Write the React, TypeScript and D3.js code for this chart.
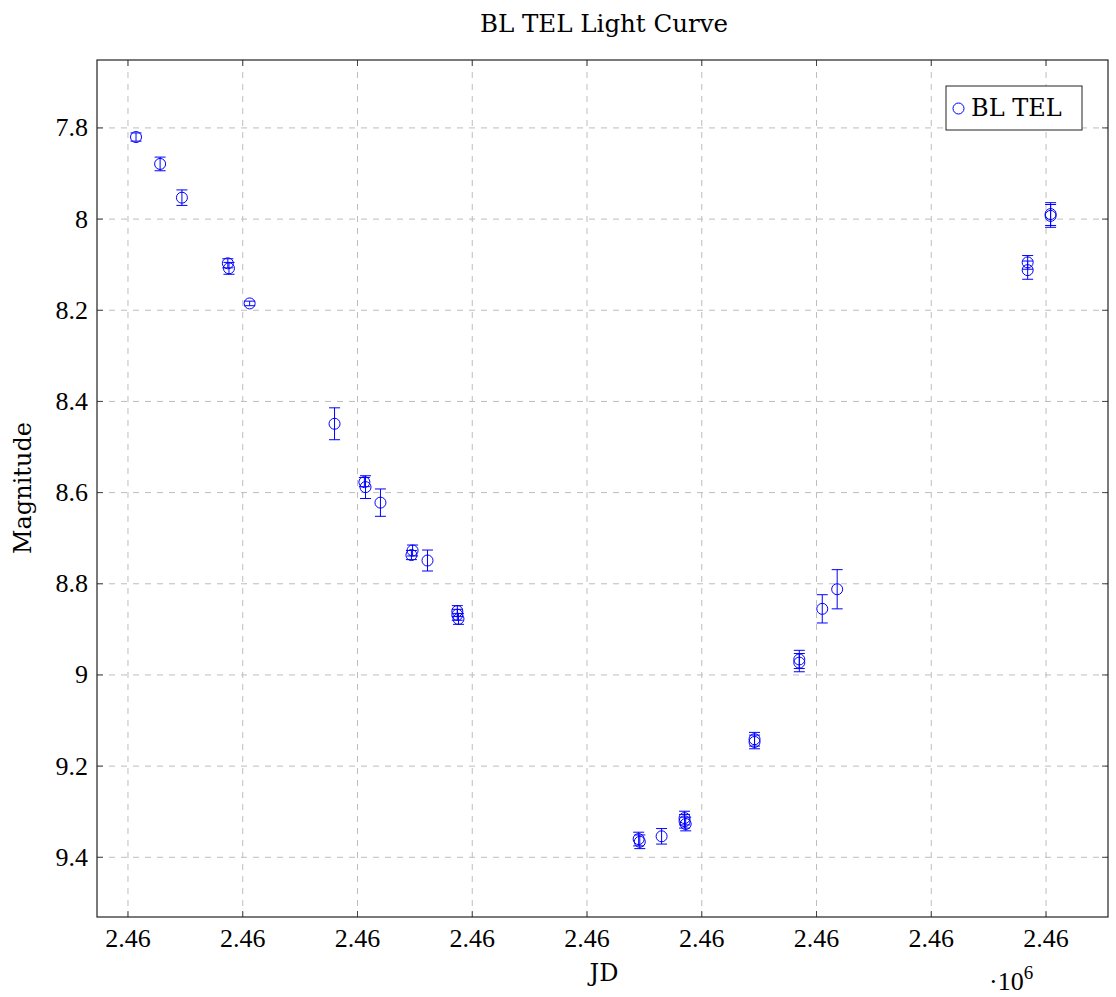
import React from "react";
import * as d3 from "d3";

const jd = [
  2459507, 2459528, 2459547, 2459587, 2459588, 2459606, 2459680, 2459706, 2459707,
  2459720, 2459747, 2459748, 2459761, 2459787, 2459787, 2459788, 2459945, 2459946,
  2459965, 2459985, 2459985, 2459986, 2460046, 2460046, 2460085, 2460085, 2460105,
  2460118, 2460284, 2460284, 2460304, 2460304,
];
const mag = [
  7.82, 7.879, 7.953, 8.097, 8.108, 8.185, 8.449, 8.577, 8.588,
  8.622, 8.737, 8.727, 8.749, 8.86, 8.868, 8.877, 9.36, 9.366,
  9.354, 9.314, 9.321, 9.327, 9.141, 9.147, 8.966, 8.973, 8.855,
  8.812, 8.095, 8.112, 7.989, 7.993,
];
const err = [
  0.009, 0.015, 0.017, 0.01, 0.013, 0.005, 0.035, 0.01, 0.025,
  0.03, 0.01, 0.012, 0.023, 0.012, 0.012, 0.012, 0.015, 0.015,
  0.017, 0.015, 0.015, 0.015, 0.015, 0.015, 0.02, 0.02, 0.031,
  0.043, 0.015, 0.02, 0.025, 0.025,
];
const xTicks = [2459500, 2459600, 2459700, 2459800, 2459900, 2460000, 2460100, 2460200, 2460300];
const yTicks = [7.8, 8, 8.2, 8.4, 8.6, 8.8, 9, 9.2, 9.4];
const seriesName = "BL TEL";

const W = 1116, H = 997;
const L = 97, R = 1108, T = 60, B = 917;
const FONT = "DejaVu Serif";
const NUMFONT = "Liberation Serif";
const BLUE = "#0000ff";

export default function App() {
  const x = d3.scaleLinear().domain([2459473, 2460354]).range([L, R]);
  const y = d3.scaleLinear().domain([7.651, 9.531]).range([T, B]);
  const pts = jd.map((j, i) => ({ j, m: mag[i], e: err[i] }));
  return (
    <svg width={W} height={H} style={{ position: "absolute", left: 0, top: 0 }}>
      <rect x={0} y={0} width={W} height={H} fill="#fff" />
      {xTicks.map((t) => (
        <line key={"gx" + t} x1={x(t)} x2={x(t)} y1={T} y2={B} stroke="#bdbdbd" strokeWidth={1} strokeDasharray="6 6" />
      ))}
      {yTicks.map((t) => (
        <line key={"gy" + t} x1={L} x2={R} y1={y(t)} y2={y(t)} stroke="#bdbdbd" strokeWidth={1} strokeDasharray="6 6" />
      ))}
      {xTicks.map((t) => (
        <g key={"tx" + t}>
          <line x1={x(t)} x2={x(t)} y1={B} y2={B - 6} stroke="#444" />
          <line x1={x(t)} x2={x(t)} y1={T} y2={T + 6} stroke="#444" />
          <text x={x(t)} y={947} textAnchor="middle" fontFamily={NUMFONT} fontSize={26}>
            {(t / 1e6).toFixed(2)}
          </text>
        </g>
      ))}
      {yTicks.map((t) => (
        <g key={"ty" + t}>
          <line x1={L} x2={L + 6} y1={y(t)} y2={y(t)} stroke="#444" />
          <line x1={R} x2={R - 6} y1={y(t)} y2={y(t)} stroke="#444" />
          <text x={L - 9} y={y(t) + 8.5} textAnchor="end" fontFamily={NUMFONT} fontSize={26}>
            {String(t)}
          </text>
        </g>
      ))}
      <rect x={L} y={T} width={R - L} height={B - T} fill="none" stroke="#222" strokeWidth={1.2} />
      {pts.map((p, i) => {
        const cx = x(p.j), cy = y(p.m);
        const y1 = y(p.m - p.e), y2 = y(p.m + p.e);
        return (
          <g key={"p" + i} stroke={BLUE} fill="none" strokeWidth={1}>
            <line x1={cx} x2={cx} y1={y1} y2={y2} />
            <line x1={cx - 5.5} x2={cx + 5.5} y1={y1} y2={y1} />
            <line x1={cx - 5.5} x2={cx + 5.5} y1={y2} y2={y2} />
            <circle cx={cx} cy={cy} r={5.5} />
          </g>
        );
      })}
      <rect x={946} y={86} width={136} height={44} fill="#fff" stroke="#222" strokeWidth={1} />
      <circle cx={958.5} cy={108.5} r={5.5} fill="none" stroke={BLUE} />
      <text x={971} y={116} fontFamily={FONT} fontSize={24}>{seriesName}</text>
      <text x={604} y={32} textAnchor="middle" fontFamily={FONT} fontSize={24.5}>
        BL TEL Light Curve
      </text>
      <text x={604} y={981} textAnchor="middle" fontFamily={FONT} fontSize={24}>JD</text>
      <text x={989} y={990} fontFamily={NUMFONT} fontSize={26}>
        ·10<tspan dy={-11} fontSize={19}>6</tspan>
      </text>
      <text transform={`translate(31, 488) rotate(-90)`} textAnchor="middle" fontFamily={FONT} fontSize={24}>
        Magnitude
      </text>
    </svg>
  );
}
